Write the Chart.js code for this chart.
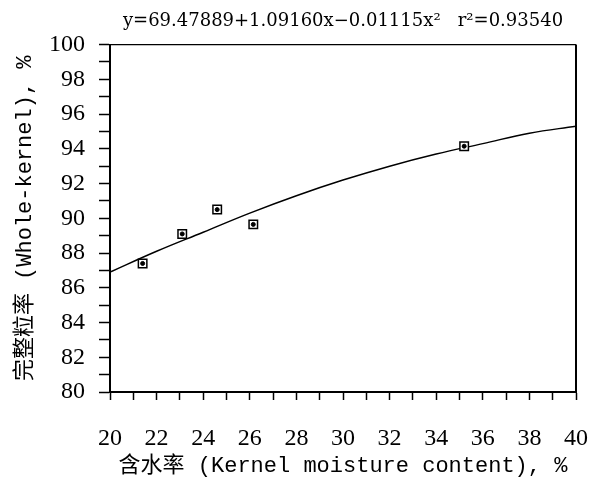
<!DOCTYPE html>
<html>
<head>
<meta charset="utf-8">
<script src="https://cdn.jsdelivr.net/npm/chart.js@4"></script>
<style>
  html, body { margin: 0; padding: 0; background: #fff; }
  #wrap { width: 591px; height: 479px; }
</style>
</head>
<body>
<div id="wrap"><canvas id="myChart" width="591" height="479"></canvas></div>
<script>
// measured points
const moisture = [21.4, 23.1, 24.6, 26.15, 35.2];
const wholeKernel = [87.4, 89.1, 90.5, 89.65, 94.15];

// fitted curve
const fitX = [20, 22, 24, 26, 28, 30, 32, 34, 36, 38, 40];
const fitY = [86.9, 88.1, 89.2, 90.3, 91.3, 92.2, 93.0, 93.7, 94.3, 94.9, 95.3];

const xMin = 20, xMax = 40;
const yMin = 80, yMax = 100;

const titleText = 'y=69.47889+1.09160x\u22120.01115x\u00b2   r\u00b2=0.93540';
const xTitle = '含水率 (Kernel moisture content), %';
const yTitle = '完整粒率 (Whole-kernel), %';

const serif = "'Liberation Serif', 'Noto Sans CJK SC', serif";
const wideSerif = "'DejaVu Serif', 'Liberation Serif', serif";
const mono = "'Liberation Mono', 'Noto Sans CJK SC', monospace";

const toPts = () => moisture.map((x, i) => ({ x: x, y: wholeKernel[i] }));
const curve = fitX.map((x, i) => ({ x: x, y: fitY[i] }));

// top and right border of the plot box
const boxBorder = {
  id: 'boxBorder',
  afterDraw(chart) {
    const a = chart.chartArea, ctx = chart.ctx;
    ctx.save();
    ctx.strokeStyle = '#000';
    ctx.lineWidth = 1.2;
    ctx.beginPath();
    ctx.moveTo(a.left, a.top);
    ctx.lineTo(a.right, a.top);
    ctx.stroke();
    ctx.lineWidth = 2;
    ctx.beginPath();
    ctx.moveTo(a.right, a.top);
    ctx.lineTo(a.right, a.bottom);
    ctx.stroke();
    ctx.restore();
  }
};

let ctx = document.getElementById('myChart');
var myChart = new Chart(ctx, {
  type: 'scatter',
  data: {
    datasets: [
      {
        type: 'line',
        order: 3,
        data: curve,
        borderColor: '#000',
        borderWidth: 1.5,
        pointRadius: 0,
        tension: 0.4,
        fill: false
      },
      {
        order: 2,
        data: toPts(),
        pointStyle: 'rect',
        pointRadius: 6,
        pointBackgroundColor: '#fff',
        pointBorderColor: '#000',
        pointBorderWidth: 1.5
      },
      {
        order: 1,
        data: toPts(),
        pointStyle: 'circle',
        pointRadius: 2,
        pointBackgroundColor: '#000',
        pointBorderColor: '#000',
        pointBorderWidth: 1
      }
    ]
  },
  options: {
    responsive: false,
    animation: false,
    layout: { padding: { left: 0, right: 15, top: 0, bottom: 0 } },
    plugins: {
      legend: { display: false },
      tooltip: { enabled: false },
      title: {
        display: true,
        text: titleText,
        fullSize: false,
        color: '#000',
        font: { family: wideSerif, size: 18, weight: 'normal' },
        padding: { top: 11, bottom: 12 }
      }
    },
    scales: {
      x: {
        type: 'linear',
        min: xMin,
        max: xMax,
        afterFit(s) { s.height = 87; s.paddingRight = 0; s.paddingLeft = 0; },
        border: { display: true, color: '#000', width: 2 },
        grid: { drawOnChartArea: false, drawTicks: true, tickLength: 8, tickColor: '#000', tickWidth: 1.5 },
        ticks: {
          stepSize: 1,
          autoSkip: false,
          maxRotation: 0,
          color: '#000',
          padding: 24,
          font: { family: serif, size: 24 },
          callback: v => (v % 2 === 0 ? String(v) : '')
        },
        title: {
          display: true,
          text: xTitle,
          color: '#000',
          font: { family: mono, size: 22 },
          padding: { top: 3, bottom: 0 }
        }
      },
      y: {
        type: 'linear',
        min: yMin,
        max: yMax,
        afterFit(s) { s.width = 110; s.paddingTop = 0; s.paddingBottom = 0; },
        border: { display: true, color: '#000', width: 2 },
        grid: { drawOnChartArea: false, drawTicks: true, tickLength: 11, tickColor: '#000', tickWidth: 1.5 },
        ticks: {
          stepSize: 1,
          autoSkip: false,
          color: '#000',
          padding: 14,
          font: { family: serif, size: 24 },
          callback: v => (v % 2 === 0 ? String(v) : '')
        },
        title: {
          display: true,
          text: yTitle,
          color: '#000',
          font: { family: mono, size: 22 },
          padding: { top: 12, bottom: 0 }
        }
      }
    }
  },
  plugins: [boxBorder]
});
</script>
</body>
</html>
